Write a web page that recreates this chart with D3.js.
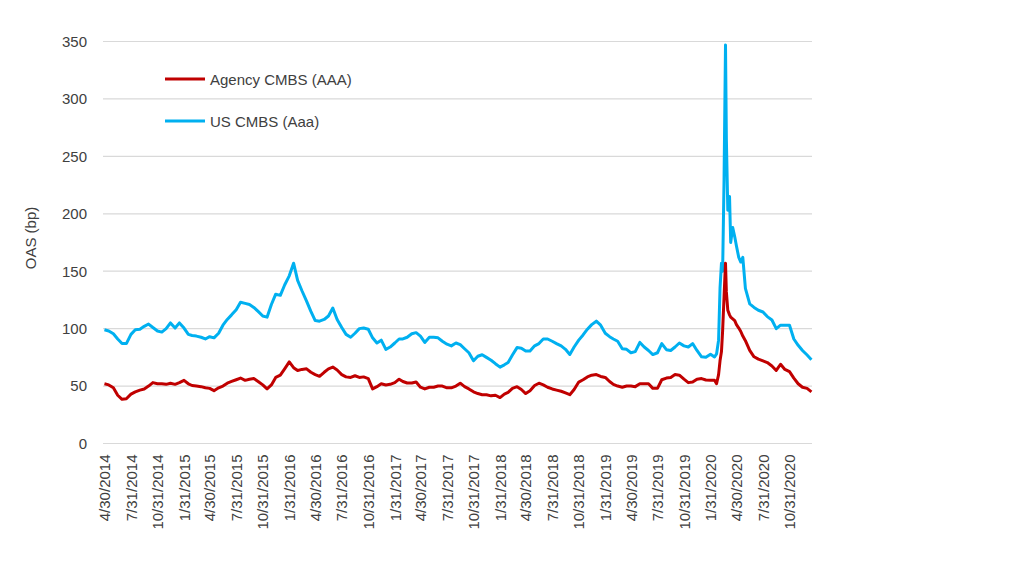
<!DOCTYPE html>
<html>
<head>
<meta charset="utf-8">
<script src="https://cdn.jsdelivr.net/npm/d3@7"></script>
<style>
  html, body { margin: 0; padding: 0; background: #ffffff; }
  svg { display: block; }
  text { font-family: "Liberation Sans", Arial, sans-serif; }
</style>
</head>
<body>
<svg id="chart" width="1024" height="582"></svg>
<script>
// ---------- DATA ----------
const seriesNames = ["Agency CMBS (AAA)", "US CMBS (Aaa)"];

const dates = [
  "2014-04-30","2014-05-15","2014-05-31","2014-06-15","2014-06-30","2014-07-15","2014-07-31","2014-08-15","2014-08-31","2014-09-15","2014-09-30","2014-10-15","2014-10-31","2014-11-15","2014-11-30","2014-12-15","2014-12-31",
  "2015-01-15","2015-01-31","2015-02-15","2015-02-28","2015-03-15","2015-03-31","2015-04-15","2015-04-30","2015-05-15","2015-05-31","2015-06-15","2015-06-30","2015-07-15","2015-07-31","2015-08-15","2015-08-31","2015-09-15","2015-09-30","2015-10-15","2015-10-31","2015-11-15","2015-11-30","2015-12-15","2015-12-31",
  "2016-01-15","2016-01-31","2016-02-15","2016-02-29","2016-03-15","2016-03-31","2016-04-15","2016-04-30","2016-05-15","2016-05-31","2016-06-15","2016-06-30","2016-07-15","2016-07-31","2016-08-15","2016-08-31","2016-09-15","2016-09-30","2016-10-15","2016-10-31","2016-11-15","2016-11-30","2016-12-15","2016-12-31",
  "2017-01-15","2017-01-31","2017-02-15","2017-02-28","2017-03-15","2017-03-31","2017-04-15","2017-04-30","2017-05-15","2017-05-31","2017-06-15","2017-06-30","2017-07-15","2017-07-31","2017-08-15","2017-08-31","2017-09-15","2017-09-30","2017-10-15","2017-10-31","2017-11-15","2017-11-30","2017-12-15","2017-12-31",
  "2018-01-15","2018-01-31","2018-02-15","2018-02-28","2018-03-15","2018-03-31","2018-04-15","2018-04-30","2018-05-15","2018-05-31","2018-06-15","2018-06-30","2018-07-15","2018-07-31","2018-08-15","2018-08-31","2018-09-15","2018-09-30","2018-10-15","2018-10-31","2018-11-15","2018-11-30","2018-12-15","2018-12-31",
  "2019-01-15","2019-01-31","2019-02-15","2019-02-28","2019-03-15","2019-03-31","2019-04-15","2019-04-30","2019-05-15","2019-05-31","2019-06-15","2019-06-30","2019-07-15","2019-07-31","2019-08-15","2019-08-31","2019-09-15","2019-09-30","2019-10-15","2019-10-31","2019-11-15","2019-11-30","2019-12-15","2019-12-31",
  "2020-01-15","2020-01-31","2020-02-14","2020-02-21","2020-02-28","2020-03-04","2020-03-09","2020-03-13","2020-03-18","2020-03-23","2020-03-26","2020-03-31","2020-04-06","2020-04-10","2020-04-17","2020-04-24","2020-04-30","2020-05-08","2020-05-15","2020-05-22","2020-05-31","2020-06-15","2020-06-30","2020-07-15","2020-07-31","2020-08-15","2020-08-31","2020-09-15","2020-09-30","2020-10-15","2020-10-31","2020-11-15","2020-11-30","2020-12-15","2020-12-31",
  "2021-01-15"
];

const agencyCMBS = [
  52, 51, 48.5, 42, 38.5, 39, 43, 45, 46.5, 47.5, 50, 53, 52, 52, 51.5, 52.5, 51.5,
  53, 55, 52, 50.5, 50, 49.5, 48.5, 48, 46, 48.5, 50, 52.5, 54, 55.5, 57, 55, 56, 56.5, 54, 51, 47.5, 51, 57.5, 59.5,
  65, 71, 66, 63.5, 64.5, 65, 62, 60, 58.5, 62, 65, 66.5, 64, 60, 58, 57.5, 59, 57.5, 58, 56.5, 47.5, 49.5, 52, 51,
  51.5, 53, 56, 54, 52.7, 52.7, 53.5, 49, 47.5, 49, 49, 50, 50, 48.5, 48.5, 50, 52.5, 49.5, 47.5, 45, 43.5, 42.5, 42.5, 41.5,
  42, 40, 43, 44.5, 48, 49.5, 47, 43.5, 46, 50.5, 52.5, 51, 49, 47.5, 46.5, 45.5, 44, 42.5, 47, 53.5, 55.5, 58, 59.5, 60,
  58.4, 57.5, 54, 51.5, 50, 49, 50, 50, 49.5, 52, 52, 52, 48, 48, 55.5, 57, 57.5, 60, 59.5, 56, 53, 53.5, 56, 56.5,
  55.3, 55, 55, 52, 60, 72, 80, 98, 128, 157, 132, 116, 112, 110, 108.5, 107, 103.5, 100.5, 97.5, 93.5, 89.5, 81, 75.5, 73.5, 72, 70.5, 67.5, 63.6, 69, 64.5, 62.5, 57, 52, 49, 48,
  45
];

const usCMBS = [
  99, 98, 95.5, 91, 87, 87, 95, 99, 99.5, 102, 104, 101, 98, 97, 100, 105, 100.5,
  105, 100.5, 95, 94, 93.5, 92.5, 91, 93, 92, 96, 103, 108, 112, 116.5, 123, 122, 121, 118.5, 115, 111, 110, 121, 130, 129,
  138, 146, 157, 142, 133, 124, 115, 107, 106.5, 108, 111, 118, 108, 101, 95, 92.5, 96, 100, 100.6, 99.5, 92, 87.5, 90, 82,
  84, 87.5, 91, 91, 92.5, 95.5, 96.5, 93.5, 88, 92.5, 92.5, 92, 89, 86.5, 85, 87.5, 86, 82.5, 79, 72, 76, 77.3, 75, 72.5,
  69.5, 66.5, 68.5, 70.5, 77, 83.5, 83, 80.5, 80.5, 85, 87, 91, 91, 89, 87, 85, 82, 77.5, 84, 90, 94.5, 99.5, 103.5, 106.5,
  103, 96, 93, 91, 89, 82.5, 82, 79, 80, 88, 84, 81, 77.4, 79, 87, 81.7, 81, 84, 87.5, 85, 84, 87, 81, 75.5,
  75, 77.7, 75.3, 78, 90, 135, 157, 150, 230, 347, 265, 203, 215, 175, 188, 180, 172, 162, 158, 162, 135, 121.5, 118.5, 116, 114.5, 110.5, 107.5, 100, 103, 103, 103, 91, 85.5, 81, 77,
  73
];

const xTickLabels = [
  "4/30/2014","7/31/2014","10/31/2014","1/31/2015","4/30/2015","7/31/2015","10/31/2015",
  "1/31/2016","4/30/2016","7/31/2016","10/31/2016","1/31/2017","4/30/2017","7/31/2017",
  "10/31/2017","1/31/2018","4/30/2018","7/31/2018","10/31/2018","1/31/2019","4/30/2019",
  "7/31/2019","10/31/2019","1/31/2020","4/30/2020","7/31/2020","10/31/2020"
];
const yTicks = [0, 50, 100, 150, 200, 250, 300, 350];
const yTitle = "OAS (bp)";
const colors = ["#C00000", "#00B0F0"];

// ---------- CHART ----------
const svg = d3.select("#chart");
const parseISO = d3.timeParse("%Y-%m-%d");
const parseMDY = d3.timeParse("%m/%d/%Y");
const textColor = "#404040";

const plot = { left: 103, right: 812, top: 41.5, bottom: 443.5 };

const x = d3.scaleTime()
  .domain([parseISO("2014-04-25"), parseISO("2021-01-17")])
  .range([plot.left, plot.right]);
const y = d3.scaleLinear().domain([0, 350]).range([plot.bottom, plot.top]);

// gridlines
svg.append("g")
  .selectAll("line")
  .data(yTicks)
  .join("line")
  .attr("x1", plot.left).attr("x2", plot.right)
  .attr("y1", d => y(d)).attr("y2", d => y(d))
  .attr("stroke", "#d9d9d9").attr("stroke-width", 1.2);

// y axis labels
const yAxis = d3.axisLeft(y).tickValues(yTicks).tickSize(0).tickPadding(0);
const yg = svg.append("g").attr("transform", `translate(${87},0)`).call(yAxis);
yg.select(".domain").remove();
yg.selectAll("text")
  .attr("font-size", 15).attr("fill", textColor)
  .attr("font-family", "'Liberation Sans', Arial, sans-serif");

// y title
svg.append("text")
  .attr("transform", `translate(30,238) rotate(-90)`)
  .attr("text-anchor", "middle").attr("dominant-baseline", "central")
  .attr("font-size", 15).attr("fill", textColor)
  .text(yTitle);

// x axis
const tickDates = xTickLabels.map(parseMDY);
const xAxis = d3.axisBottom(x).tickValues(tickDates).tickSize(0).tickPadding(0)
  .tickFormat((d, i) => xTickLabels[i]);
const xg = svg.append("g").attr("transform", `translate(0,${plot.bottom})`).call(xAxis);
xg.select(".domain").attr("stroke", "#d9d9d9").attr("stroke-width", 1.2)
  .attr("d", `M${plot.left},0H${plot.right}`);
xg.selectAll("text")
  .attr("font-size", 15).attr("fill", textColor)
  .attr("font-family", "'Liberation Sans', Arial, sans-serif")
  .attr("text-anchor", "end")
  .attr("transform", "rotate(-90)")
  .attr("x", -11).attr("y", 0).attr("dy", "0.35em");

// lines
const rowsA = dates.map((d, i) => ({ date: parseISO(d), v: agencyCMBS[i] }));
const rowsU = dates.map((d, i) => ({ date: parseISO(d), v: usCMBS[i] }));
const line = d3.line().x(d => x(d.date)).y(d => y(d.v)).curve(d3.curveLinear);

svg.append("path").datum(rowsU)
  .attr("fill", "none").attr("stroke", colors[1]).attr("stroke-width", 3)
  .attr("stroke-linejoin", "round").attr("d", line);
svg.append("path").datum(rowsA)
  .attr("fill", "none").attr("stroke", colors[0]).attr("stroke-width", 3)
  .attr("stroke-linejoin", "round").attr("d", line);

// legend
const legendY = [79, 121];
const lg = svg.append("g");
seriesNames.forEach((name, i) => {
  lg.append("line")
    .attr("x1", 165).attr("x2", 205)
    .attr("y1", legendY[i]).attr("y2", legendY[i])
    .attr("stroke", colors[i]).attr("stroke-width", 3);
  lg.append("text")
    .attr("x", 210).attr("y", legendY[i])
    .attr("dominant-baseline", "central")
    .attr("font-size", 15).attr("fill", textColor)
    .text(name);
});
</script>
</body>
</html>
